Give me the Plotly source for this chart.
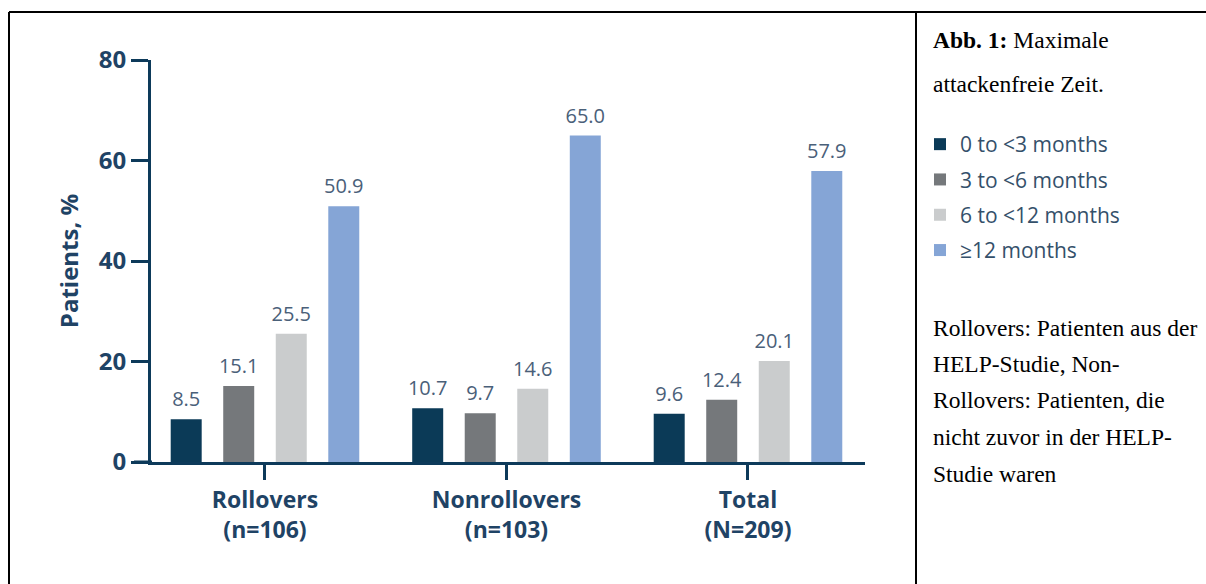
import plotly.graph_objects as go

categories = ["Rollovers<br>(n=106)", "Nonrollovers<br>(n=103)", "Total<br>(N=209)"]
series_names = ["0 to <3 months", "3 to <6 months", "6 to <12 months", "≥12 months"]
vals_0_3 = [8.5, 10.7, 9.6]
vals_3_6 = [15.1, 9.7, 12.4]
vals_6_12 = [25.5, 14.6, 20.1]
vals_12 = [50.9, 65.0, 57.9]
y_ticks = [0, 20, 40, 60, 80]

series_values = [vals_0_3, vals_3_6, vals_6_12, vals_12]
colors = ["#0b3a57", "#75787b", "#cacccd", "#85a5d6"]
AXIS = "#0d3a5a"
TICKTXT = "#1f4365"
VALTXT = "#4a6079"

W, H = 1206, 584
L, R, T, B = 151, 865, 60, 462
PW, PH = R - L, B - T


def px(x):
    return (x - L) / PW


def py(y):
    return (B - y) / PH


fig = go.Figure()
for i, (name, vals) in enumerate(zip(series_names, series_values)):
    fig.add_trace(go.Bar(
        x=categories, y=vals, name=name, marker_color=colors[i],
        marker_line_width=0, legendgroup=f"g{i}", offsetgroup=f"g{i}",
        hoverinfo="skip",
    ))
for i, vals in enumerate(series_values):
    fig.add_trace(go.Scatter(
        x=categories, y=vals, mode="markers+text",
        text=[f"{v:.1f}" for v in vals], textposition="top center",
        textfont=dict(family="Open Sans", size=20, color=VALTXT),
        marker=dict(size=11, opacity=0), offsetgroup=f"g{i}",
        showlegend=False, cliponaxis=False, hoverinfo="skip",
    ))

shapes = [
    dict(type="line", xref="paper", yref="paper", x0=px(9), x1=px(9), y0=py(12), y1=py(700),
         line=dict(color="black", width=2)),
    dict(type="line", xref="paper", yref="paper", x0=px(9), x1=px(1400), y0=py(12), y1=py(12),
         line=dict(color="black", width=2)),
    dict(type="line", xref="paper", yref="paper", x0=px(916), x1=px(916), y0=py(12), y1=py(700),
         line=dict(color="black", width=2)),
    dict(type="line", xref="paper", yref="y", x0=px(134), x1=px(152), y0=0, y1=0,
         line=dict(color=AXIS, width=3)),
]

serif = "Liberation Serif, Times New Roman, serif"
text_lines = [
    ("<b>Abb. 1:</b> Maximale", 40),
    ("attackenfreie Zeit.", 84),
    ("Rollovers: Patienten aus der", 328),
    ("HELP-Studie, Non-", 364),
    ("Rollovers: Patienten, die", 400),
    ("nicht zuvor in der HELP-", 437),
    ("Studie waren", 474),
]
annotations = [
    dict(text=t, x=px(931), y=py(yy), xref="paper", yref="paper", xanchor="left",
         yanchor="middle", showarrow=False, font=dict(family=serif, size=23.5, color="black"))
    for t, yy in text_lines
]

fig.update_layout(
    width=W, height=H,
    margin=dict(l=L, r=W - R, t=T, b=H - B, pad=0),
    paper_bgcolor="white", plot_bgcolor="white",
    barmode="group", bargap=0.13, bargroupgap=0.41,
    scattermode="group", scattergap=0.13,
    showlegend=True,
    legend=dict(x=px(920), y=py(124), xanchor="left", yanchor="top",
                font=dict(family="Open Sans", size=21, color="#34506a"),
                tracegroupgap=5, bgcolor="rgba(0,0,0,0)", itemwidth=30),
    shapes=shapes, annotations=annotations,
    xaxis=dict(type="category", range=[-0.472, 2.4845], showline=True, linewidth=3,
               linecolor=AXIS, ticks="outside", ticklen=15, tickwidth=3, tickcolor=AXIS,
               showgrid=False, zeroline=False,
               tickfont=dict(family="Open Sans", size=23, color=TICKTXT, weight="bold")),
    yaxis=dict(range=[0, 80], tickvals=y_ticks, showline=True, linewidth=3, linecolor=AXIS,
               ticks="outside", ticklen=17, tickwidth=3, tickcolor=AXIS,
               showgrid=False, zeroline=False,
               tickfont=dict(family="Open Sans", size=24, color=TICKTXT, weight="bold"),
               title=dict(text="Patients, %", standoff=14,
                          font=dict(family="Open Sans", size=24, color=TICKTXT, weight="bold"))),
)

fig.write_html("out.html")
